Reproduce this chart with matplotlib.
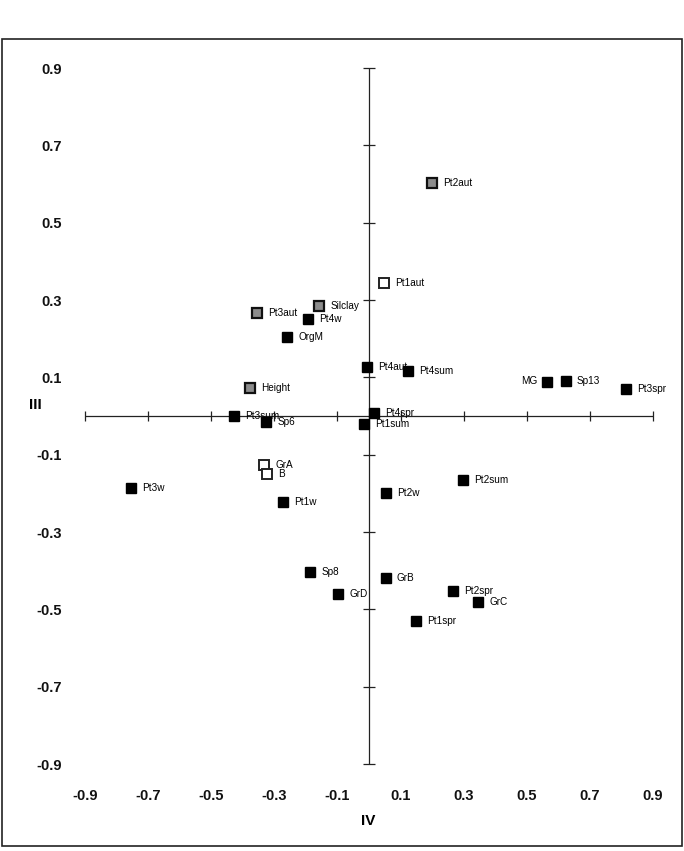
import numpy as np
import matplotlib.pyplot as plt
from matplotlib.patches import Rectangle

plt.rcParams['font.family'] = ['Liberation Sans', 'DejaVu Sans']

# ordination scores (axis IV horizontal, axis III vertical)
names = ['Pt2aut', 'Pt1aut', 'Silclay', 'Pt3aut', 'Pt4w', 'OrgM', 'Pt4aut', 'Pt4sum',
         'MG', 'Sp13', 'Pt3spr', 'Height', 'Pt3sum', 'Sp6', 'Pt4spr', 'Pt1sum',
         'GrA', 'B', 'Pt3w', 'Pt1w', 'Pt2w', 'Pt2sum', 'Sp8', 'GrB', 'GrD',
         'Pt2spr', 'GrC', 'Pt1spr']
axis_iv = [0.201, 0.048, -0.158, -0.355, -0.192, -0.260, -0.007, 0.125,
           0.563, 0.624, 0.814, -0.377, -0.428, -0.326, 0.017, -0.015,
           -0.333, -0.324, -0.755, -0.272, 0.053, 0.297, -0.186, 0.053, -0.097,
           0.267, 0.346, 0.149]
axis_iii = [0.602, 0.344, 0.285, 0.267, 0.250, 0.205, 0.127, 0.117,
            0.087, 0.090, 0.069, 0.072, 0.000, -0.016, 0.009, -0.021,
            -0.127, -0.150, -0.187, -0.223, -0.200, -0.166, -0.403, -0.418, -0.461,
            -0.452, -0.482, -0.529]
# marker kind: environmental variables grey, some open, samples black
kinds = ['grey', 'open', 'grey', 'grey', 'black', 'black', 'black', 'black',
         'black', 'black', 'black', 'grey', 'black', 'black', 'black', 'black',
         'open', 'open', 'black', 'black', 'black', 'black', 'black', 'black', 'black',
         'black', 'black', 'black']
left_labels = ['MG']

ticks = [-0.9, -0.7, -0.5, -0.3, -0.1, 0.1, 0.3, 0.5, 0.7, 0.9]
tick_labels = ['-0.9', '-0.7', '-0.5', '-0.3', '-0.1', '0.1', '0.3', '0.5', '0.7', '0.9']

styles = {
    'black': dict(mfc='black', mec='black', mew=1.0, ms=7),
    'grey': dict(mfc='#8c8c8c', mec='#111111', mew=1.6, ms=6.5),
    'open': dict(mfc='white', mec='#222222', mew=1.4, ms=6.5),
}

W, H = 684, 851
fig = plt.figure(figsize=(W / 100, H / 100), dpi=100)
ax = fig.add_axes([85 / W, 87 / H, 568 / W, 696 / H])
ax.set_xlim(-0.9, 0.9)
ax.set_ylim(-0.9, 0.9)

for s in ax.spines.values():
    s.set_visible(False)

# axes crossing at zero, with crossing tick marks
ax.axhline(0, color='#222222', lw=0.9)
ax.axvline(0, color='#222222', lw=0.9)
ax.plot(ticks, np.zeros(len(ticks)), ls='none', marker='|', ms=7, mew=0.9,
        color='#222222', clip_on=False)
ax.plot(np.zeros(len(ticks)), ticks, ls='none', marker='_', ms=8, mew=0.9,
        color='#222222', clip_on=False)

ax.set_xticks(ticks)
ax.set_xticklabels(tick_labels, fontweight='bold')
ax.set_yticks(ticks)
ax.set_yticklabels(tick_labels, fontweight='bold')
ax.tick_params(axis='both', length=0, labelsize=10.5, colors='#111111')
ax.tick_params(axis='x', pad=18)
ax.tick_params(axis='y', pad=17)

for name, x, y, kind in zip(names, axis_iv, axis_iii, kinds):
    ax.plot(x, y, ls='none', marker='s', zorder=3, **styles[kind])
    if name in left_labels:
        ax.annotate(name, (x, y), xytext=(-7, 1), textcoords='offset points',
                    ha='right', va='center', fontsize=7.2)
    else:
        ax.annotate(name, (x, y), xytext=(8, 0), textcoords='offset points',
                    ha='left', va='center', fontsize=7.2)

fig.text(35 / W, 1 - 405 / H, 'III', ha='center', va='center',
         fontsize=11, fontweight='bold')
fig.text(368 / W, 1 - 821 / H, 'IV', ha='center', va='center',
         fontsize=11, fontweight='bold')

fig.patches.append(Rectangle((2 / W, 5 / H), 680 / W, 807 / H, fill=False,
                             lw=1.2, edgecolor='#222222',
                             transform=fig.transFigure, figure=fig))

fig.savefig('out.png', dpi=100)
